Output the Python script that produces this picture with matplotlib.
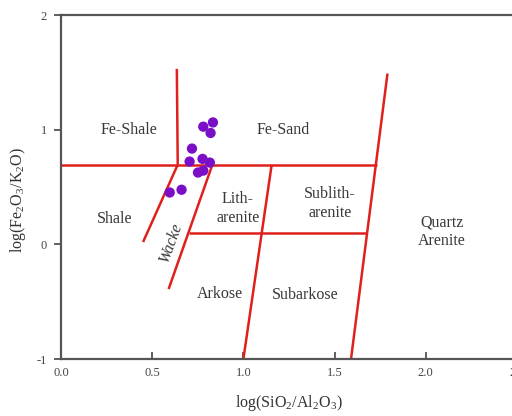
import matplotlib
matplotlib.use("Agg")
import matplotlib.pyplot as plt

plt.rcParams['font.family'] = ['Liberation Serif', 'DejaVu Serif']
plt.rcParams['mathtext.fontset'] = 'custom'
plt.rcParams['mathtext.rm'] = 'Liberation Serif'

# sample points, log(SiO2/Al2O3) vs log(Fe2O3/K2O)
sio2_al2o3 = [0.78, 0.833, 0.82, 0.718, 0.705, 0.776, 0.816, 0.751, 0.78, 0.661, 0.596]
fe2o3_k2o = [1.026, 1.063, 0.971, 0.835, 0.722, 0.745, 0.713, 0.626, 0.643, 0.476, 0.452]

# field boundaries (x pairs, y pairs)
bounds_x = [
    [0.0, 1.73],     # Fe-shale / Fe-sand lower limit
    [0.635, 0.64],   # Fe-Shale | Fe-Sand
    [0.45, 0.64],    # Shale | Wacke
    [0.59, 0.83],    # Wacke | Lith/Arkose
    [0.70, 1.68],    # Litharenite / Arkose
    [1.0, 1.155],    # Lith | Sublith, Arkose | Subarkose
    [1.59, 1.79],    # Quartz arenite
]
bounds_y = [
    [0.695, 0.695],
    [1.53, 0.695],
    [0.02, 0.695],
    [-0.39, 0.695],
    [0.10, 0.10],
    [-1.0, 0.695],
    [-1.0, 1.49],
]

field_names = ['Fe-Shale', 'Fe-Sand', 'Shale', 'Lith-\narenite', 'Sublith-\narenite',
               'Quartz\nArenite', 'Arkose', 'Subarkose']
field_x = [0.375, 1.22, 0.295, 0.97, 1.475, 2.09, 0.87, 1.34]
field_y = [0.995, 0.995, 0.22, 0.315, 0.355, 0.11, -0.43, -0.445]

fig = plt.figure(figsize=(5.12, 4.16), dpi=100)
ax = fig.add_axes([61 / 512, 57 / 416, 456 / 512, 344 / 416])

for bx, by in zip(bounds_x, bounds_y):
    ax.plot(bx, by, color='#e0201c', lw=1.8, solid_capstyle='butt')

ax.scatter(sio2_al2o3, fe2o3_k2o, s=55, color='#7a0fc8', zorder=3, edgecolors='none')

for name, fx, fy in zip(field_names, field_x, field_y):
    ax.text(fx, fy, name, ha='center', va='center', fontsize=11.5,
            color='#383838', linespacing=1.25)
ax.text(0.605, 0.02, 'Wacke', rotation=70, style='italic', ha='center', va='center',
        fontsize=11.5, color='#383838')

ax.set_xlim(0, 2.5)
ax.set_ylim(-1, 2)
ax.set_xticks([0.0, 0.5, 1.0, 1.5, 2.0, 2.5])
ax.set_xticklabels(['0.0', '0.5', '1.0', '1.5', '2.0', '2.5'])
ax.set_yticks([-1, 0, 1, 2])
ax.set_yticklabels(['-1', '0', '1', '2'])
ax.tick_params(axis='x', direction='in', length=5, width=1.2, labelsize=9, colors='#444444', pad=6)
ax.tick_params(axis='y', direction='out', length=5, width=1.2, labelsize=9, colors='#444444', pad=5)
for side in ['left', 'bottom', 'top']:
    ax.spines[side].set_color('#555555')
    ax.spines[side].set_linewidth(1.6)
ax.spines['right'].set_visible(False)

ax.set_xlabel('log(SiO$_2$/Al$_2$O$_3$)', fontsize=11.5, color='#333333', labelpad=10)
ax.set_ylabel('log(Fe$_2$O$_3$/K$_2$O)', fontsize=11.5, color='#333333')
ax.yaxis.set_label_coords(-0.072, 0.462)

fig.savefig('out.png', dpi=100)
